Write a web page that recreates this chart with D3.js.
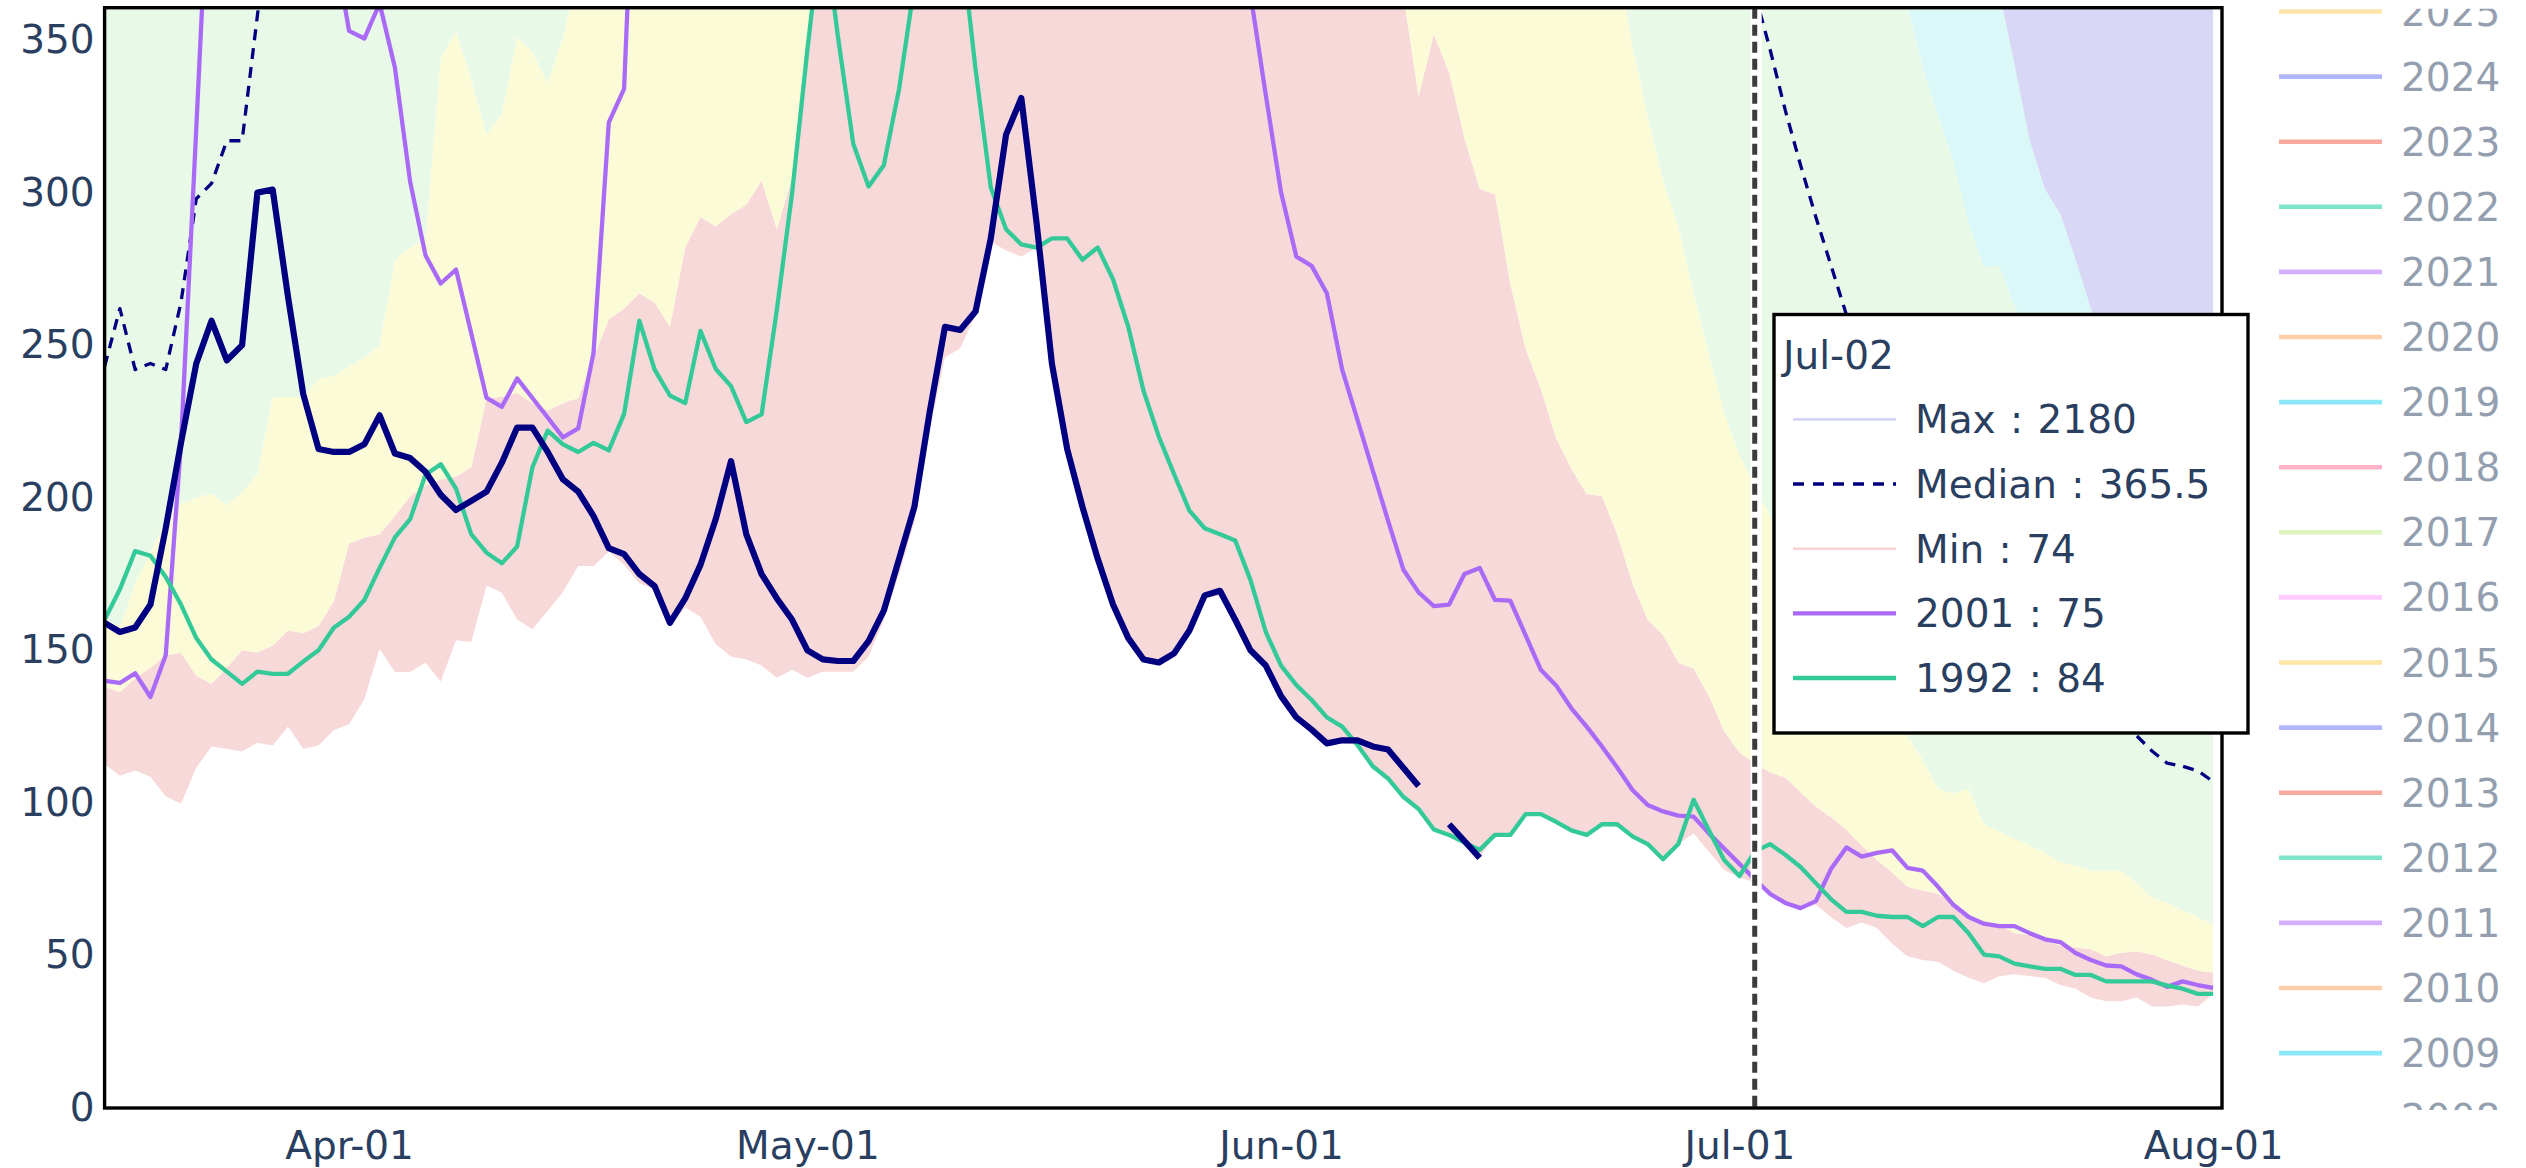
<!DOCTYPE html>
<html>
<head>
<meta charset="utf-8">
<script src="https://cdn.jsdelivr.net/npm/d3@7"></script>
<style>
  body { margin: 0; background: #fff; }
  svg { display: block; }
  text { font-family: "DejaVu Sans", Verdana, sans-serif; }
</style>
</head>
<body>
<div id="chart"></div>
<script>
// day 0 = Mar-16, one value per day up to Aug-01 (day 138)
let startDay = "2001-03-16";
let hoverIndex = 108; // Jul-02

let yTicks = [0, 50, 100, 150, 200, 250, 300, 350];
let xTickDays = ["2001-04-01", "2001-05-01", "2001-06-01", "2001-07-01", "2001-08-01"];

// current season (thick navy), ends mid June
let current = [
  159,156,157.5,165,190,218,244,258,245,250,
  300,301,266,234,216,215,215,217.5,227,214.5,
  213,208.5,201,196,199,202,211.5,223,223,215,
  206,202,194,183.5,181.5,175,171,159,167,178,
  193,212,188,175,167,160,150,147,146.5,146.5,
  153,163,180,197,228,256,255,261,285,319,
  331,290,244,216,197,180,165,154,147,146,
  149,156.5,168,169.5,160,150,145,135,128,124,
  119.5,120.5,120.5,118.5,117.5,111.5,105.5,null,93,87.5,
  82];

let y1992 = [
  160,170,182.5,181,174,165,154,147,143,139,
  143,142.3,142.3,146.3,150,157.4,161,166.5,177,187,
  193,207.5,211,203,188,182,178.5,184,210,222,
  217.5,215,218,215.5,227.5,258,242,233.5,231,254.7,
  242.2,236.6,224.8,227.3,261.6,300,347,390,351,316,
  302,309,334,368,400,420,385,340.6,301.7,288,
  283,282,285,285,278,282,271.6,256,235,220,
  207.7,195.8,190,188,186,173,156,145,138.6,133.7,
  128,125,119,112,108,102,98,91.3,89.5,87,
  84.6,89.5,89.5,96.3,96.3,93.8,91,89.5,93,93,
  89,86.5,81.5,86.5,101,91,81.3,76,84,86.5,
  83,79,73.7,68.4,64.3,64.3,63,62.6,62.6,59.6,
  62.6,62.6,57.3,50.3,49.7,47.3,46.4,45.6,45.6,43.6,
  43.6,41.5,41.5,41.5,41.5,40.1,39.1,37.4,37.4];

let y2001 = [
  140,139.3,142.5,134.7,148.4,218,321,426,470,520,
  560,540,500,460,420,382,353,350.5,362,341,
  303.5,279.5,270.2,274.8,253.8,232.7,229.8,239.1,232.7,226.3,
  219.8,222.7,247.5,323,334,455,520,600,680,720,
  760,800,850,900,880,860,900,950,1000,980,
  950,920,900,880,860,850,840,820,800,780,
  760,740,720,700,680,660,640,620,600,570,
  540,510,480,450,410,365,332,300,279,276,
  267,242,225.5,209,192.5,176.5,169,164.5,165,175,
  177,166.5,166.3,155,143.6,138.5,131,125,118.5,111.6,
  104.2,99.3,97.2,95.8,95.5,90,85,80,75,70.2,
  67.2,65.5,67.8,78.4,85.4,82.4,83.6,84.4,78.7,77.8,
  72.5,66.6,62.6,60.4,59.6,59.6,57.3,55.3,54.4,50.8,
  48.5,46.7,46.4,43.8,42,39.7,41.5,40.3,39.4];

let median = [
  243,262,242,244,242,264,298,303,317,317,
  358,400,440,480,520,560,580,600,590,600,
  620,640,650,660,680,700,690,700,720,740,
  760,780,800,790,780,800,820,850,860,880,
  900,920,940,960,980,1000,990,980,1000,1020,
  1040,1060,1080,1100,1090,1080,1060,1040,1020,1000,
  980,960,940,920,900,880,860,840,820,800,
  780,760,740,720,700,680,660,640,620,600,
  580,560,540,530,520,510,500,490,480,470,
  460,450,440,430,420,415,410,400,395,390,
  388,386,384,382,380,376,372,368,365.5,347,
  327,309,292,276,260,248,236,224,213,203,
  194,185,177,170,163,157,151,146,141,136,
  132,128,125,122,117,113,112,110.5,107];

let minV = [
  112.7,108.9,110.6,108.6,102.1,99.8,111.5,118.5,117.7,116.8,
  119.7,118.8,125,117.7,118.8,123.8,125.8,134,150.4,142.9,
  142.9,146,139.8,153.3,152.7,171.2,168.9,160.1,156.9,163,
  169.1,177.6,177.6,182.3,178,172,170,158,164,161,
  152,148,147,145,141,143.6,141,143,143,143,
  148,160,175,192,222,246,249,260,284,281,
  279,282,243,215,196,179,164,153,146,145,
  148,155,167,168,159,149,144,134,127,123,
  118.5,119.5,119,112,107.9,102,98,91.3,89.5,87,
  82,89.5,89.5,96.3,96.3,93.8,91,89.5,93,92,
  89,86.5,81.5,86.5,90,84,78,75.5,74,70.2,
  67.2,65.5,66.6,62.5,59,60.8,59,53.8,49.7,48.5,
  47.9,45,42.7,40.9,43.2,43.8,43.2,42.7,40.3,39.1,
  36.2,35,35,36.2,33.3,33.3,33.9,33.3,37.4];

let p10 = [
  138,136.3,140.8,144.3,148.4,149.2,141.7,139,144.3,150,
  149.3,151.5,156.6,155.6,158,166,185,187,188,194,
  200.5,204,206,207,210,232.7,233,234.4,231,228.6,
  231,232.7,246,258.4,262,267,264,256,282,292,
  289,293,296,304,288,305,352,395,430,470,
  520,560,600,640,680,700,720,700,690,680,
  700,720,740,720,700,680,660,640,620,600,
  580,560,540,520,500,490,480,470,460,450,
  440,430,420,400,385,365,331.6,352,339.4,318,
  301.2,299.5,270.3,248.8,235.7,219.6,209.5,201.2,200.6,188,
  172,160,155,146,144,135,123.5,116.5,113,110,
  108.2,103.5,98.8,95.3,91.2,86,81.3,77.2,72.5,71.3,
  70.2,67.2,63.7,60.2,60.2,57.3,56.7,54.9,53.2,52.6,
  52,49.7,50.9,51.4,50.3,48.5,46.7,45,44.4];

let p25 = [
  160,158,172,182,193,198,200,201.5,197.5,202,
  207.5,233,233,233,239,240,243,246,250,278,
  282,285,344,353,337,319,326,351,346,336,
  351,372,398,425,447,470,505,520,548,560,
  585,610,640,655,690,705,740,760,790,800,
  820,850,860,880,870,860,850,830,820,800,
  790,780,770,750,730,710,690,670,650,630,
  610,590,570,550,540,520,505,490,480,465,
  455,445,435,425,415,408,402,398,394,391,
  389,387,386,385,384,383,382,381,380,378,
  348,325,304,289,267,247,228,214,204,194,
  183,176,167,159,151,143,136,129,122,114,
  104.7,103,104.7,93,90.6,88.3,86,83.6,80.7,79.5,
  77.8,77.8,77.8,73.7,69,67.2,64.9,62.6,60.2];

let p75 = [
  420,445,430,455,470,495,520,540,565,580,
  610,650,690,720,750,780,800,830,850,870,
  900,930,950,980,1000,1030,1050,1080,1100,1120,
  1150,1180,1200,1230,1250,1280,1300,1320,1350,1380,
  1400,1420,1450,1480,1500,1520,1540,1560,1580,1600,
  1620,1640,1660,1680,1660,1640,1620,1600,1580,1550,
  1520,1500,1470,1440,1410,1380,1350,1320,1290,1260,
  1230,1200,1170,1140,1110,1080,1050,1020,990,960,
  940,910,890,860,840,810,790,770,750,730,
  710,690,670,650,630,610,590,570,550,530,
  515,500,490,480,470,460,450,440,430,420,
  410,402,396,390,385,380,376,370,361,341,
  325,310,290,275.5,276,263,252,243,236,228,
  220,212,205,198,192,186,180,174,168];

let p90 = [
  600,640,620,660,690,720,760,800,830,860,
  900,950,1000,1040,1080,1120,1160,1200,1240,1280,
  1320,1360,1400,1440,1480,1520,1560,1600,1640,1680,
  1720,1760,1800,1840,1880,1920,1960,2000,2040,2080,
  2100,2120,2150,2180,2200,2220,2240,2260,2280,2300,
  2320,2340,2360,2380,2350,2320,2290,2260,2230,2200,
  2160,2120,2080,2040,2000,1960,1920,1880,1840,1800,
  1760,1720,1680,1640,1600,1560,1520,1480,1440,1400,
  1360,1320,1280,1240,1200,1160,1120,1080,1040,1000,
  960,920,880,840,800,770,740,710,680,650,
  630,610,590,570,550,530,510,490,470,450,
  440,430,420,410,400,395,390,385,380,375,
  372,370,368,366,366,342,317,301,293,278,
  262,250,241,233,226,219,213,207,201];

let maxV = [
  1480,1620,1570,1710,1850,1960,2080,2210,2290,2400,
  2520,2610,2730,2790,2900,3020,3080,3210,3290,3400,
  3480,3620,3690,3810,3900,4020,4080,4190,4310,4380,
  4520,4590,4710,4790,4920,5010,5080,5220,5290,5410,
  5480,5620,5690,5810,5900,6020,6080,6210,6290,6410,
  6480,6620,6690,6810,6720,6580,6510,6390,6320,6180,
  5990,5820,5610,5390,5220,4980,4810,4590,4420,4180,
  4010,3890,3820,3690,3610,3490,3420,3290,3210,3090,
  3010,2940,2910,2840,2810,2740,2710,2640,2610,2540,
  2510,2470,2460,2430,2420,2390,2380,2350,2340,2310,
  2300,2270,2260,2230,2220,2200,2200,2190,2180,2140,
  2100,2040,2010,1940,1910,1840,1810,1740,1710,1640,
  1610,1540,1510,1440,1410,1340,1310,1240,1210,1140,
  1110,1070,1060,1030,1020,990,960,920,900];

let legendYears = [2025, 2024, 2023, 2022, 2021, 2020, 2019, 2018, 2017,
                   2016, 2015, 2014, 2013, 2012, 2011, 2010, 2009, 2008];
let legendColors = ["#FECB52", "#636EFA", "#EF553B", "#00CC96", "#AB63FA", "#FFA15A",
                    "#19D3F3", "#FF6692", "#B6E880", "#FF97FF", "#FECB52", "#636EFA",
                    "#EF553B", "#00CC96", "#AB63FA", "#FFA15A", "#19D3F3", "#FF6692"];

let svgWidth = 2526;
let svgHeight = 1168;
let margin = { top: 7.7, right: 304, bottom: 60, left: 104.6 };
let plotRight = svgWidth - margin.right;
let plotBottom = svgHeight - margin.bottom;
let fontSize = 39;
let textColor = "#2a3f5f";

let svg = d3.select("#chart")
  .append("svg")
  .attr("width", svgWidth)
  .attr("height", svgHeight);

let parseDay = d3.utcParse("%Y-%m-%d");
let start = parseDay(startDay);
let dayDate = i => d3.utcDay.offset(start, i);

let xScale = d3.scaleUtc()
  .domain([start, d3.utcHour.offset(start, Math.round(138.6 * 24))])
  .range([margin.left, plotRight]);

let yScale = d3.scaleLinear()
  .domain([0, 360.6])
  .range([plotBottom, margin.top]);

svg.append("clipPath").attr("id", "plotClip")
  .append("rect")
  .attr("x", margin.left).attr("y", margin.top)
  .attr("width", plotRight - margin.left)
  .attr("height", plotBottom - margin.top);

let plotGroup = svg.append("g").attr("clip-path", "url(#plotClip)");

// percentile bands
let bands = [
  { lo: minV, hi: p10, color: "#F8D9D9" },
  { lo: p10, hi: p25, color: "#FCFBD8" },
  { lo: p25, hi: p75, color: "#E9F9E8" },
  { lo: p75, hi: p90, color: "#DAF8F8" },
  { lo: p90, hi: maxV, color: "#D8D8F6" }
];

bands.forEach(function(b) {
  let area = d3.area()
    .x(i => xScale(dayDate(i)))
    .y0(i => yScale(b.lo[i]))
    .y1(i => yScale(b.hi[i]));
  plotGroup.append("path")
    .datum(d3.range(b.lo.length))
    .attr("d", area)
    .attr("fill", b.color);
});

function drawLine(values, color, width, dash) {
  let line = d3.line()
    .defined(i => values[i] !== null)
    .x(i => xScale(dayDate(i)))
    .y(i => yScale(values[i]));
  plotGroup.append("path")
    .datum(d3.range(values.length))
    .attr("d", line)
    .attr("fill", "none")
    .attr("stroke", color)
    .attr("stroke-width", width)
    .attr("stroke-linejoin", "round")
    .attr("stroke-dasharray", dash);
}

drawLine(median, "#000080", 3.3, "11,8");
drawLine(y2001, "#A96AF8", 4.3, null);
drawLine(y1992, "#33C998", 4.3, null);
drawLine(current, "#000080", 6.2, null);

// hover spike
let spikeX = xScale(dayDate(hoverIndex));
svg.append("line")
  .attr("x1", spikeX + 1.5).attr("x2", spikeX + 1.5)
  .attr("y1", margin.top).attr("y2", plotBottom)
  .attr("stroke", "#fff").attr("stroke-width", 11);
svg.append("line")
  .attr("x1", spikeX).attr("x2", spikeX)
  .attr("y1", margin.top).attr("y2", plotBottom)
  .attr("stroke", "#3c3c3c").attr("stroke-width", 5)
  .attr("stroke-dasharray", "11,6");

// plot frame
svg.append("rect")
  .attr("x", margin.left).attr("y", margin.top)
  .attr("width", plotRight - margin.left)
  .attr("height", plotBottom - margin.top)
  .attr("fill", "none")
  .attr("stroke", "#000")
  .attr("stroke-width", 3.4);

// axes
let leftAxis = d3.axisLeft(yScale).tickValues(yTicks).tickSize(0).tickPadding(10);
let bottomAxis = d3.axisBottom(xScale)
  .tickValues(xTickDays.map(parseDay))
  .tickFormat(d3.utcFormat("%b-%d"))
  .tickSize(0).tickPadding(23);

let yAxisG = svg.append("g")
  .attr("transform", `translate(${margin.left}, 0)`)
  .call(leftAxis);
let xAxisG = svg.append("g")
  .attr("transform", `translate(0, ${plotBottom})`)
  .call(bottomAxis);

[yAxisG, xAxisG].forEach(function(g) {
  g.select(".domain").remove();
  g.selectAll("text")
    .attr("fill", textColor)
    .style("font-size", fontSize + "px")
    .style("font-family", "'DejaVu Sans', Verdana, sans-serif");
});

// legend (scrolled, clipped)
svg.append("clipPath").attr("id", "legendClip")
  .append("rect")
  .attr("x", 2250).attr("y", margin.top + 1)
  .attr("width", 276).attr("height", plotBottom - margin.top + 1);

let legendGroup = svg.append("g").attr("clip-path", "url(#legendClip)");
legendYears.forEach(function(yr, k) {
  let cy = 11.5 + 65.1 * k;
  let item = legendGroup.append("g").attr("opacity", 0.5);
  item.append("line")
    .attr("x1", 2279).attr("x2", 2382)
    .attr("y1", cy).attr("y2", cy)
    .attr("stroke", legendColors[k])
    .attr("stroke-width", 4.6);
  item.append("text")
    .attr("x", 2401).attr("y", cy + 14)
    .attr("fill", textColor)
    .style("font-size", fontSize + "px")
    .text(yr);
});

// unified hover label
let hoverRows = [
  { name: "Max", value: maxV[hoverIndex], color: "#D6D6F6", width: 2.6, dash: null },
  { name: "Median", value: median[hoverIndex], color: "#000080", width: 3.4, dash: "11,9" },
  { name: "Min", value: minV[hoverIndex], color: "#F6D2D2", width: 2.6, dash: null },
  { name: "2001", value: y2001[hoverIndex], color: "#A96AF8", width: 4.4, dash: null },
  { name: "1992", value: y1992[hoverIndex], color: "#33C998", width: 4.4, dash: null }
];

let hover = svg.append("g");
hover.append("rect")
  .attr("x", 1774).attr("y", 314.5)
  .attr("width", 474).attr("height", 418.5)
  .attr("fill", "#fff")
  .attr("stroke", "#000")
  .attr("stroke-width", 3.4);
hover.append("text")
  .attr("x", 1783).attr("y", 368.5)
  .attr("fill", textColor)
  .style("font-size", fontSize + "px")
  .text(d3.utcFormat("%b-%d")(dayDate(hoverIndex)));

hoverRows.forEach(function(r, i) {
  let cy = 419.4 + 64.65 * i;
  hover.append("line")
    .attr("x1", 1793).attr("x2", 1896)
    .attr("y1", cy).attr("y2", cy)
    .attr("stroke", r.color)
    .attr("stroke-width", r.width)
    .attr("stroke-dasharray", r.dash);
  hover.append("text")
    .attr("x", 1915).attr("y", cy + 14)
    .attr("fill", textColor)
    .style("font-size", fontSize + "px")
    .style("word-spacing", "2px")
    .text(`${r.name} : ${r.value}`);
});
</script>
</body>
</html>
